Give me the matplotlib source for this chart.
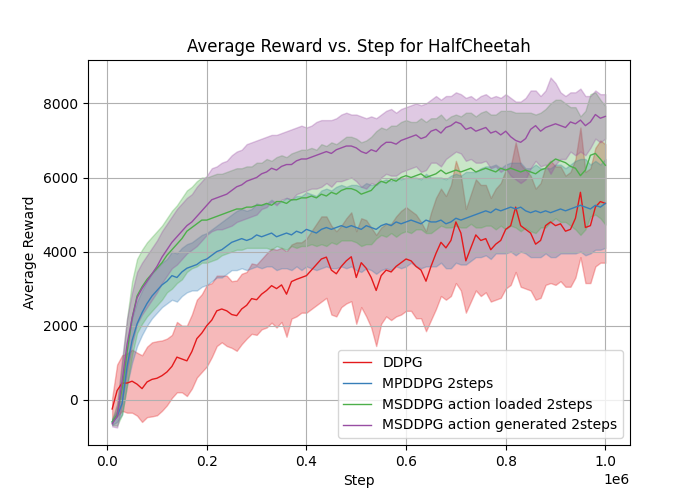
import numpy as np
import matplotlib
matplotlib.use('Agg')
import matplotlib.pyplot as plt

# steps: every 10k from 10k to 1M
steps = np.arange(1, 101) * 10000

labels = ['DDPG', 'MPDDPG 2steps', 'MSDDPG action loaded 2steps', 'MSDDPG action generated 2steps']
colors = ['#e41a1c', '#377eb8', '#4daf4a', '#984ea3']

ddpg_mean = [
    -250, 250, 450, 450, 500, 420, 300, 480, 550, 580,
    650, 750, 900, 1150, 1100, 1050, 1300, 1650, 1800, 2000,
    2150, 2400, 2450, 2400, 2300, 2270, 2450, 2550, 2730, 2700,
    2850, 2950, 3080, 3000, 3100, 2850, 3190, 3250, 3300, 3350,
    3500, 3650, 3800, 3850, 3500, 3400, 3600, 3750, 3860, 3300,
    3700, 3550, 3300, 2950, 3350, 3500, 3450, 3600, 3700, 3800,
    3750, 3600, 3500, 3200, 3600, 3950, 4250, 4100, 4300, 4800,
    4500, 3750, 4100, 4450, 4300, 4350, 4050, 4200, 4300, 4600,
    4700, 5200, 4700, 4600, 4500, 4200, 4300, 4700, 4800, 4700,
    4750, 4550, 4600, 4900, 5600, 4650, 4700, 5200, 5350, 5300]
ddpg_std = [
    300, 700, 750, 800, 850, 850, 900, 950, 1000, 1000,
    950, 900, 850, 950, 900, 950, 1000, 1050, 1050, 1100,
    1000, 950, 900, 950, 900, 950, 950, 900, 950, 950,
    950, 1000, 1000, 1050, 1000, 1150, 1000, 1000, 950, 1000,
    1050, 1100, 1150, 1100, 1200, 1150, 1100, 1150, 1200, 1250,
    1200, 1300, 1350, 1500, 1300, 1250, 1300, 1350, 1400, 1400,
    1350, 1400, 1300, 1350, 1450, 1500, 1450, 1400, 1500, 1650,
    1550, 1400, 1450, 1500, 1500, 1450, 1400, 1500, 1550, 1600,
    1600, 1750, 1650, 1600, 1550, 1500, 1550, 1600, 1650, 1600,
    1550, 1500, 1550, 1600, 1750, 1500, 1550, 1600, 1650, 1600]

mpddpg_mean = [
    -600, -450, -100, 900, 1600, 2050, 2350, 2600, 2800, 2950,
    3100, 3200, 3350, 3300, 3450, 3550, 3600, 3650, 3750, 3800,
    3900, 4000, 4050, 4150, 4250, 4300, 4350, 4300, 4350, 4450,
    4400, 4450, 4500, 4400, 4450, 4500, 4450, 4550, 4500, 4600,
    4550, 4500, 4600, 4650, 4600, 4650, 4700, 4650, 4700, 4650,
    4600, 4700, 4650, 4600, 4700, 4750, 4700, 4800, 4750, 4800,
    4850, 4800, 4750, 4850, 4800, 4800, 4850, 4750, 4800, 4900,
    4850, 4900, 4950, 5000, 5050, 5100, 5050, 5150, 5100, 5150,
    5200, 5150, 5200, 5100, 5050, 5100, 5050, 5100, 5050, 5100,
    5150, 5100, 5150, 5200, 5250, 5200, 5150, 5250, 5200, 5300]
mpddpg_std = [
    80, 150, 300, 500, 600, 600, 600, 600, 600, 600,
    600, 600, 650, 650, 650, 650, 650, 700, 700, 700,
    700, 700, 750, 750, 750, 800, 800, 800, 800, 850,
    850, 850, 900, 900, 900, 950, 950, 950, 1000, 1000,
    1000, 1000, 1050, 1050, 1050, 1100, 1100, 1100, 1100, 1150,
    1150, 1150, 1150, 1200, 1200, 1200, 1200, 1200, 1200, 1200,
    1150, 1200, 1200, 1250, 1200, 1200, 1150, 1200, 1250, 1200,
    1200, 1250, 1200, 1150, 1200, 1200, 1250, 1200, 1150, 1200,
    1200, 1250, 1200, 1150, 1200, 1250, 1200, 1150, 1200, 1250,
    1200, 1150, 1200, 1250, 1250, 1300, 1200, 1200, 1150, 1200]

loaded_mean = [
    -600, -400, 300, 1300, 2200, 2800, 3050, 3250, 3400, 3550,
    3700, 3900, 4050, 4200, 4350, 4550, 4650, 4750, 4850, 4850,
    4900, 4950, 5000, 5050, 5100, 5150, 5150, 5200, 5200, 5250,
    5250, 5300, 5250, 5350, 5350, 5300, 5400, 5400, 5450, 5450,
    5500, 5450, 5550, 5500, 5600, 5550, 5650, 5700, 5700, 5650,
    5550, 5600, 5650, 5800, 5900, 5850, 5950, 5900, 6000, 6050,
    6000, 6050, 6100, 6000, 6050, 6100, 6200, 6100, 6150, 6200,
    6150, 6200, 6250, 6150, 6200, 6250, 6200, 6150, 6250, 6200,
    6250, 6200, 6150, 6200, 6150, 6100, 6200, 6250, 6400, 6500,
    6450, 6400, 6300, 6250, 6050, 6200, 6600, 6650, 6500, 6330]
loaded_std = [
    80, 300, 700, 900, 1000, 1000, 1000, 1000, 1000, 1000,
    1000, 1000, 1050, 1050, 1100, 1100, 1100, 1150, 1150, 1150,
    1150, 1150, 1100, 1100, 1100, 1100, 1100, 1100, 1100, 1150,
    1150, 1200, 1200, 1200, 1250, 1250, 1250, 1300, 1300, 1300,
    1300, 1300, 1350, 1350, 1350, 1350, 1350, 1400, 1400, 1400,
    1400, 1400, 1450, 1450, 1450, 1450, 1450, 1500, 1500, 1500,
    1500, 1450, 1500, 1500, 1550, 1500, 1500, 1450, 1500, 1500,
    1500, 1550, 1500, 1500, 1550, 1550, 1500, 1550, 1550, 1600,
    1550, 1550, 1600, 1550, 1600, 1600, 1550, 1600, 1600, 1600,
    1650, 1600, 1600, 1650, 1600, 1600, 1650, 1650, 1600, 1600]

generated_mean = [
    -650, -450, 500, 1500, 2200, 2750, 3000, 3200, 3400, 3600,
    3850, 4050, 4250, 4400, 4550, 4700, 4800, 4950, 5100, 5250,
    5400, 5450, 5500, 5550, 5650, 5750, 5800, 5900, 5950, 6000,
    6100, 6150, 6250, 6200, 6300, 6350, 6350, 6450, 6500, 6500,
    6550, 6600, 6650, 6700, 6650, 6750, 6800, 6850, 6850, 6800,
    6700, 6650, 6750, 6700, 6850, 6950, 6950, 6900, 7000, 7050,
    7100, 7150, 7050, 7100, 7250, 7300, 7200, 7350, 7400, 7500,
    7450, 7300, 7350, 7250, 7300, 7350, 7200, 7250, 7150, 7250,
    7100, 7000, 6950, 7050, 7300, 7400, 7250, 7350, 7400, 7450,
    7400, 7350, 7500, 7450, 7550, 7400, 7500, 7700, 7600, 7650]
generated_std = [
    70, 300, 600, 700, 700, 700, 700, 700, 700, 700,
    700, 700, 700, 750, 750, 750, 750, 800, 800, 800,
    850, 850, 900, 900, 950, 950, 950, 1000, 1000, 1000,
    950, 950, 900, 950, 900, 900, 950, 900, 900, 850,
    850, 900, 900, 850, 900, 850, 900, 900, 850, 900,
    950, 950, 900, 900, 850, 850, 900, 850, 850, 850,
    850, 850, 900, 900, 850, 900, 900, 850, 800, 800,
    800, 850, 850, 850, 900, 900, 950, 950, 1000, 1000,
    1050, 1050, 1100, 1100, 1050, 950, 950, 1000, 1300, 1100,
    900, 850, 800, 850, 850, 800, 700, 650, 650, 600]

means = [ddpg_mean, mpddpg_mean, loaded_mean, generated_mean]
stds = [ddpg_std, mpddpg_std, loaded_std, generated_std]

plt.figure(figsize=(7, 5), dpi=100)
for m, s, c, lab in zip(means, stds, colors, labels):
    m = np.array(m)
    s = np.array(s)
    plt.plot(steps, m, color=c, linewidth=1, label=lab)
    plt.fill_between(steps, m - s, m + s, color=c, alpha=0.3)

plt.title('Average Reward vs. Step for HalfCheetah')
plt.xlabel('Step')
plt.ylabel('Average Reward')
plt.grid(True)
plt.legend(loc='lower right')
plt.savefig('out.png')
